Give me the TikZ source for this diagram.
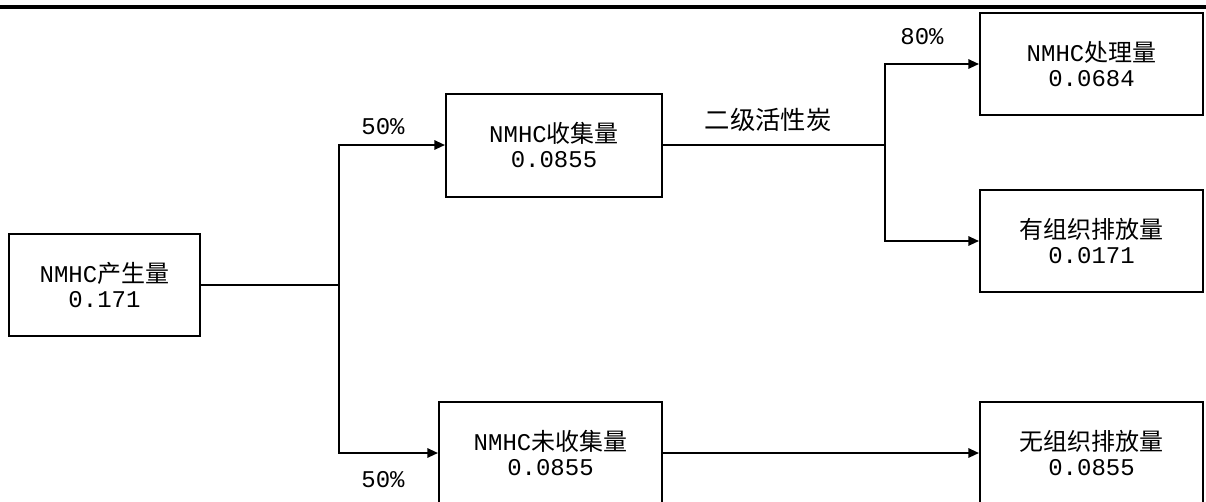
\documentclass[tikz,border=0pt]{standalone}
\usepackage{fontspec}
\setmainfont{Liberation Mono}
\newfontfamily\cjk{Noto Sans CJK SC}
\usetikzlibrary{arrows.meta}
\tikzset{
  box/.style={draw=black, line width=1.5pt, inner sep=0pt, align=center,
    font=\fontsize{18pt}{19pt}\selectfont},
  conn/.style={draw=black, line width=1.5pt},
  arr/.style={conn, -{Triangle[length=8pt,width=7pt]}},
  lbl/.style={inner sep=0pt, font=\fontsize{18pt}{19pt}\selectfont}
}
\begin{document}
\begin{tikzpicture}[x=0.75pt, y=-0.75pt]
\useasboundingbox (0,0) rectangle (1206,501);
\fill[white] (0,0) rectangle (1206,501);
\clip (0,0) rectangle (1206,501);
\draw[line width=2.6pt] (0,7) -- (1206,7);
\node[box, minimum width=143.25pt, minimum height=76.5pt] (A) at (104.5,285) {NMHC{\cjk 产生量}\\0.171};
\node[box, minimum width=162pt, minimum height=77.25pt] (B) at (554,145) {NMHC{\cjk 收集量}\\0.0855};
\node[box, minimum width=167.25pt, minimum height=76.5pt] (C) at (1091.5,64) {NMHC{\cjk 处理量}\\0.0684};
\node[box, minimum width=167.25pt, minimum height=76.5pt] (D) at (1091.5,241) {{\cjk 有组织排放量}\\0.0171};
\node[box, minimum width=167.25pt, minimum height=76.5pt] (E) at (550.5,453) {NMHC{\cjk 未收集量}\\0.0855};
\node[box, minimum width=167.25pt, minimum height=76.5pt] (F) at (1091.5,453) {{\cjk 无组织排放量}\\0.0855};
\coordinate (j1) at (339,285);
\coordinate (j2) at (885,145);
\draw[conn] (A.east) -- (j1);
\draw[arr] (j1) |- (B.west);
\draw[arr] (j1) |- (E.west);
\draw[conn] (B.east) -- (j2);
\draw[arr] (j2) |- (C.west);
\draw[arr] (j2) |- (D.west);
\draw[arr] (E.east) -- (F.west);
\node[lbl] (p1) at (383,127) {50\%};
\node[lbl] (p2) at (383,480) {50\%};
\node[lbl] (p3) at (922,37) {80\%};
\node[lbl, font=\fontsize{19pt}{20pt}\selectfont\cjk] (t1) at (768,120) {二级活性炭};
\end{tikzpicture}
\end{document}
